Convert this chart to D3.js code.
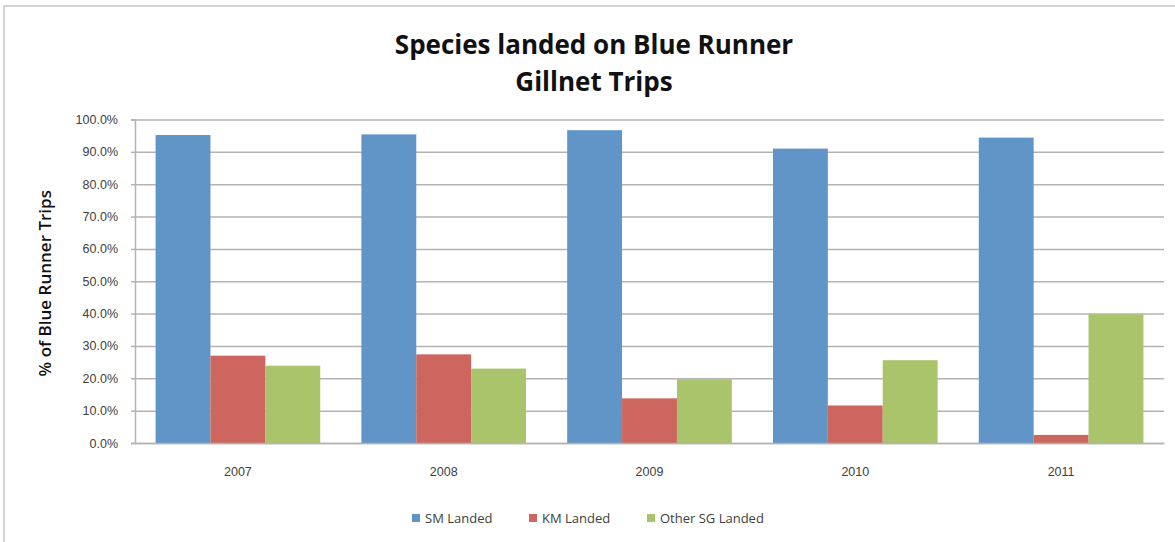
<!DOCTYPE html>
<html>
<head>
<meta charset="utf-8">
<script src="https://cdn.jsdelivr.net/npm/d3@7"></script>
<style>
  body { margin: 0; background: #fff; }
  svg { font-family: "Open Sans", "Liberation Sans", sans-serif; }
</style>
</head>
<body>
<svg width="1175" height="542"></svg>
<script>
var years = ["2007", "2008", "2009", "2010", "2011"];
var seriesNames = ["SM Landed", "KM Landed", "Other SG Landed"];
var smLanded = [0.952, 0.954, 0.967, 0.910, 0.944];
var kmLanded = [0.270, 0.274, 0.138, 0.116, 0.025];
var otherLanded = [0.239, 0.230, 0.197, 0.256, 0.398];
var yTicks = [0, 0.1, 0.2, 0.3, 0.4, 0.5, 0.6, 0.7, 0.8, 0.9, 1.0];
var colors = ["#6195c8", "#cc665e", "#a9c46a"];

var values = [smLanded, kmLanded, otherLanded];

var svg = d3.select("svg"),
    margin = {top: 119.5, right: 11, bottom: 99, left: 135},
    width = svg.attr("width") - margin.left - margin.right,
    height = svg.attr("height") - margin.top - margin.bottom;

// outer chart frame
svg.append("rect")
    .attr("x", 4).attr("y", 6)
    .attr("width", 1180).attr("height", 560)
    .attr("fill", "none")
    .attr("stroke", "#d4d4d4")
    .attr("stroke-width", 2);

var x0 = d3.scaleBand().domain(years).range([0, width]).paddingInner(0.2).paddingOuter(0.1),
    x1 = d3.scaleBand().domain(seriesNames).range([0, x0.bandwidth()]),
    y = d3.scaleLinear().domain([0, 1]).range([height, 0]);

var g = svg.append("g")
    .attr("transform", "translate(" + margin.left + "," + margin.top + ")");

// gridlines
g.append("g")
    .call(d3.axisLeft(y).tickValues(yTicks).tickSize(-width).tickFormat(""))
    .call(function(s) {
      s.select(".domain").remove();
      s.selectAll("line").attr("stroke", "#b3b3b3").attr("stroke-width", 1.5);
    });

// bars
var groups = g.selectAll(".year")
    .data(years)
    .enter().append("g")
    .attr("transform", function(d) { return "translate(" + x0(d) + ",0)"; });

groups.selectAll("rect")
    .data(function(d, i) {
      return seriesNames.map(function(s, j) { return {s: s, v: values[j][i], c: colors[j]}; });
    })
    .enter().append("rect")
    .attr("x", function(d) { return x1(d.s); })
    .attr("width", x1.bandwidth())
    .attr("y", function(d) { return y(d.v); })
    .attr("height", function(d) { return height - y(d.v); })
    .attr("fill", function(d) { return d.c; });

// y axis
g.append("g")
    .call(d3.axisLeft(y).tickValues(yTicks).tickSize(4).tickPadding(13).tickFormat(d3.format(".1%")))
    .call(function(s) {
      s.select(".domain").attr("stroke", "#b3b3b3").attr("stroke-width", 1.5);
      s.selectAll("line").attr("stroke", "#b3b3b3").attr("stroke-width", 1.5);
      s.selectAll("text").attr("fill", "#404040").style("font-size", "12.5px");
    });

// x axis
g.append("g")
    .attr("transform", "translate(0," + height + ")")
    .call(d3.axisBottom(x0).tickSize(0).tickPadding(24))
    .call(function(s) {
      s.select(".domain").attr("stroke", "#b3b3b3").attr("stroke-width", 1.5);
      s.selectAll("text").attr("fill", "#404040").style("font-size", "12.5px");
    });

// title
svg.append("text")
    .attr("x", 594).attr("y", 54)
    .attr("text-anchor", "middle")
    .style("font-size", "26px").style("font-weight", "bold").attr("fill", "#111")
    .text("Species landed on Blue Runner");
svg.append("text")
    .attr("x", 594).attr("y", 91)
    .attr("text-anchor", "middle")
    .style("font-size", "26px").style("font-weight", "bold").attr("fill", "#111")
    .text("Gillnet Trips");

// y axis label
svg.append("text")
    .attr("transform", "translate(51," + (margin.top + height / 2 + 2) + ") rotate(-90)")
    .attr("text-anchor", "middle")
    .style("font-size", "17px").style("font-weight", "600").attr("fill", "#111")
    .text("% of Blue Runner Trips");

// legend
var legendX = [412, 529, 647];
var legend = svg.selectAll(".legend")
    .data(seriesNames)
    .enter().append("g")
    .attr("transform", function(d, i) { return "translate(" + legendX[i] + ",514)"; });
legend.append("rect")
    .attr("width", 8).attr("height", 8)
    .attr("fill", function(d, i) { return colors[i]; });
legend.append("text")
    .attr("x", 13).attr("y", 9)
    .attr("fill", "#404040")
    .style("font-size", "13px")
    .text(function(d) { return d; });
</script>
</body>
</html>
